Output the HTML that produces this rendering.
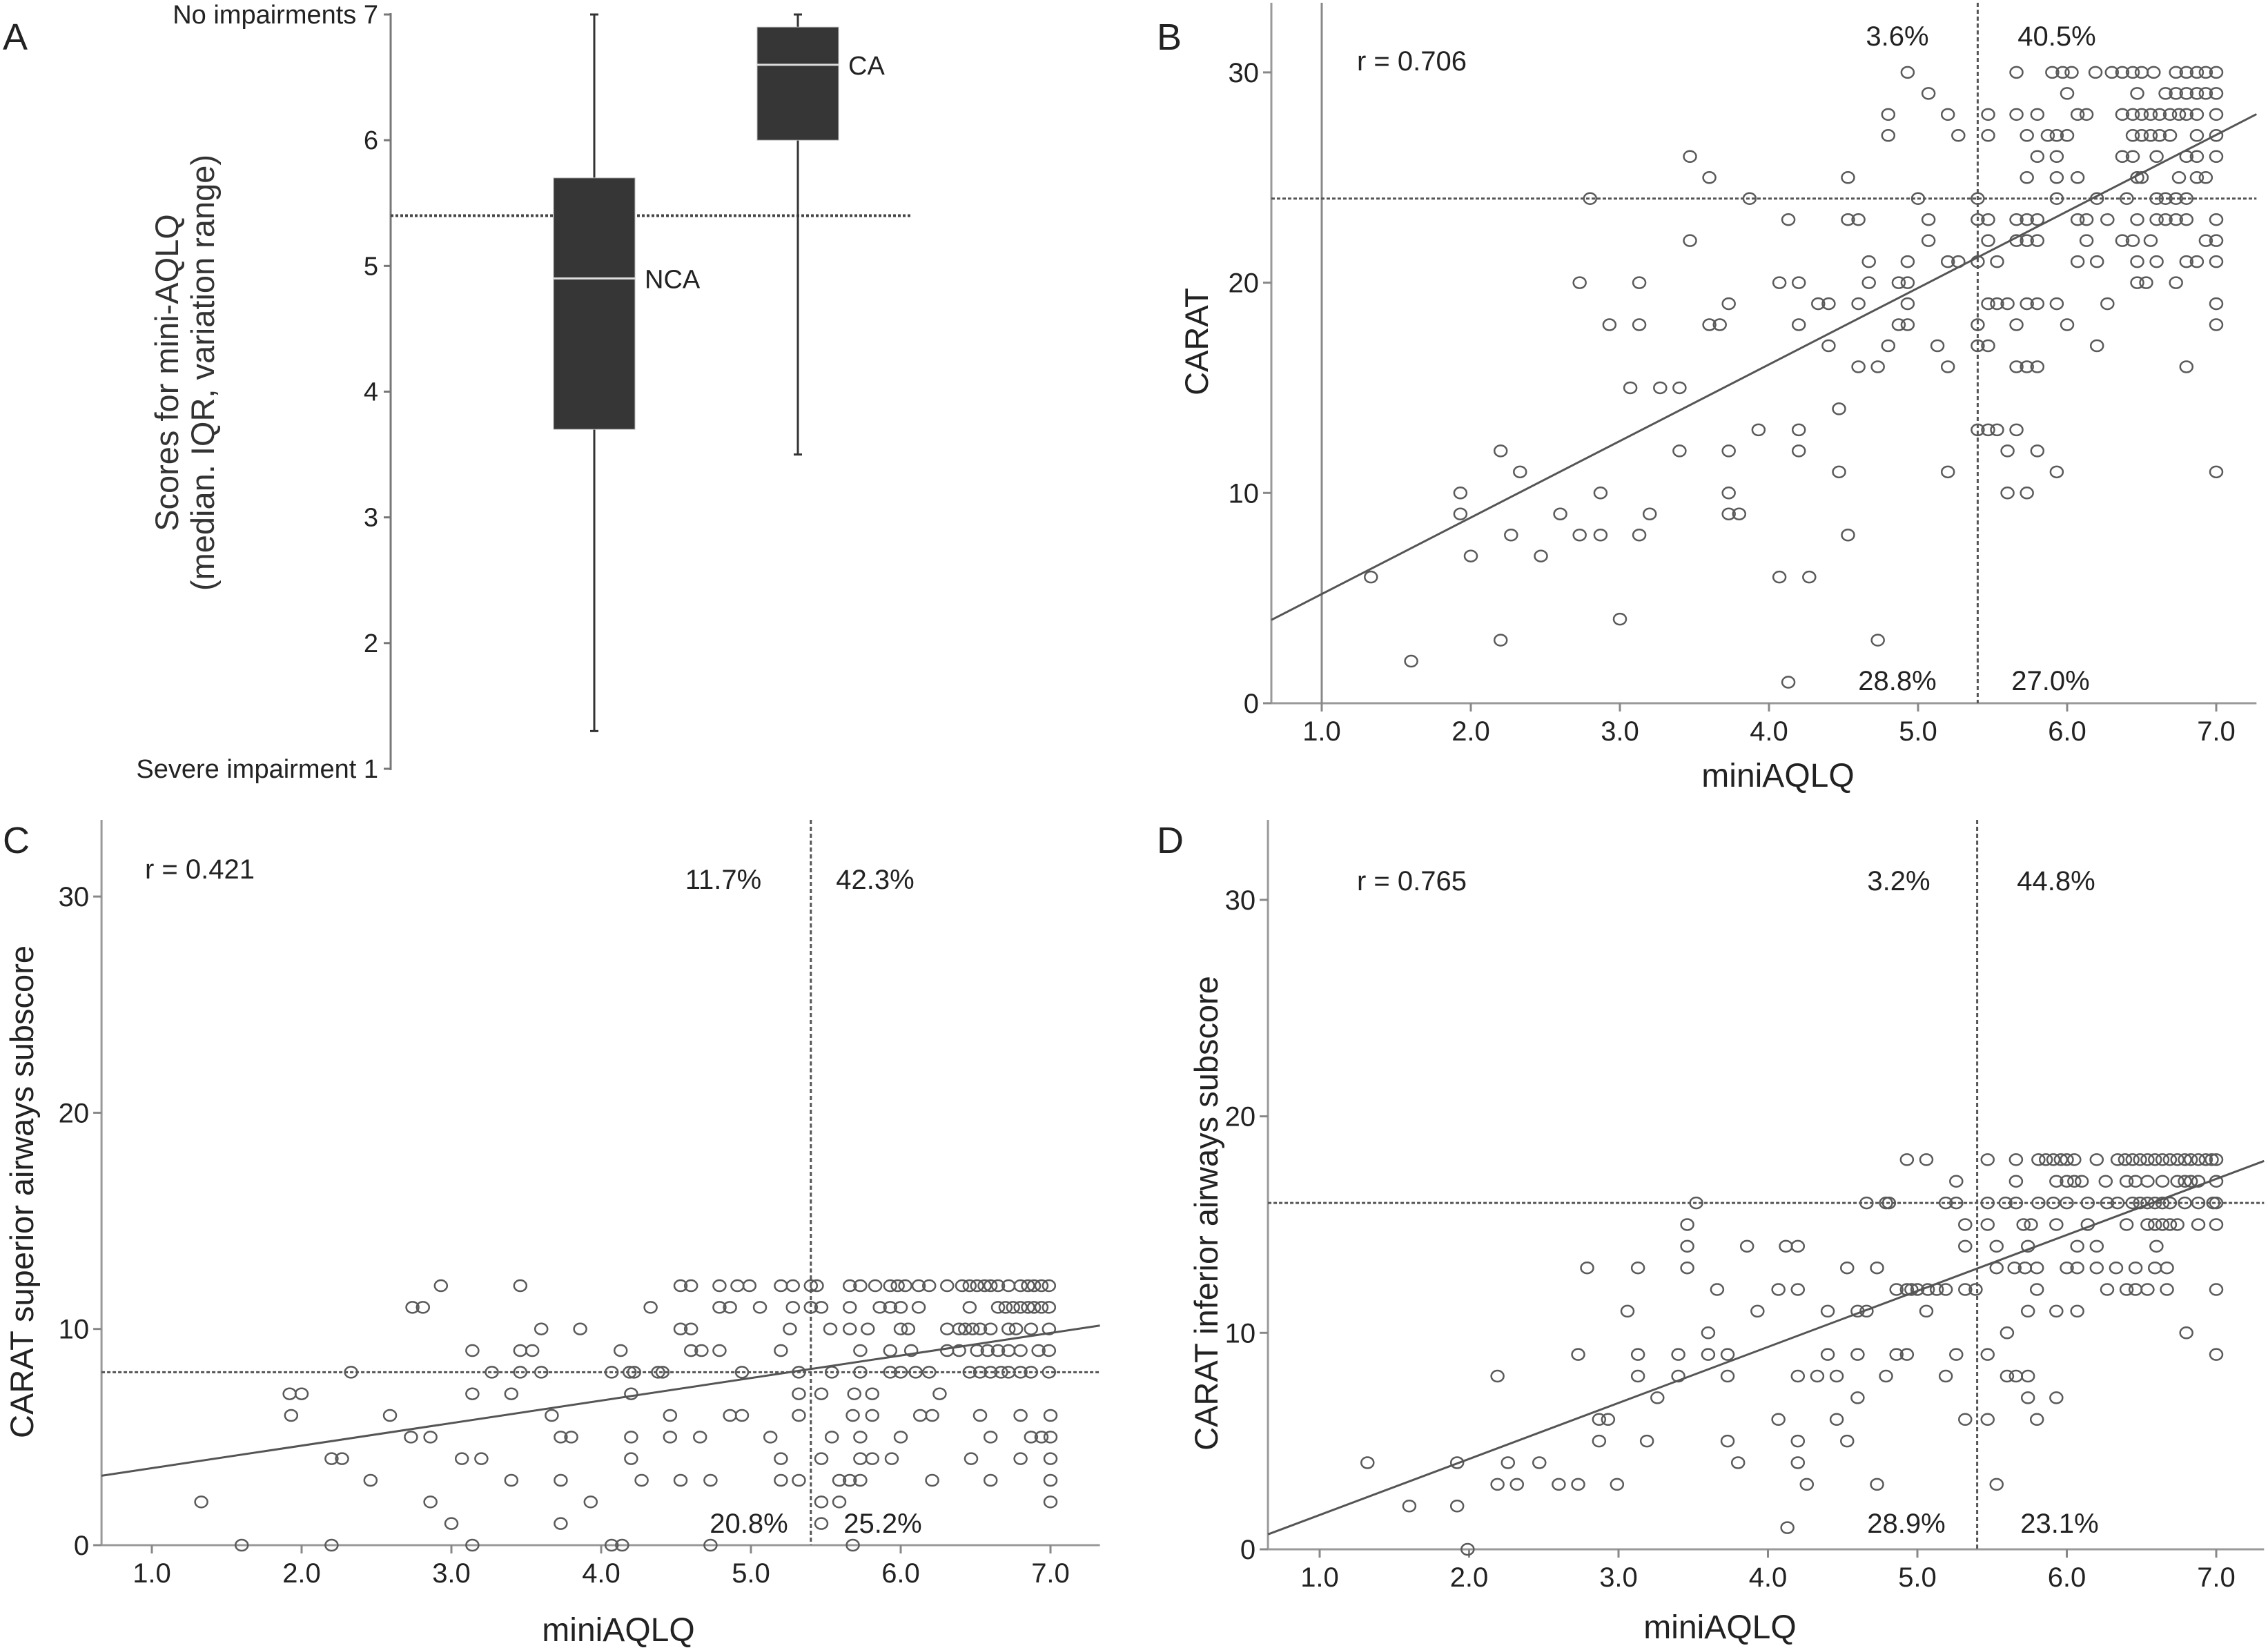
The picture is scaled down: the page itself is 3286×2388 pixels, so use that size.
<!DOCTYPE html>
<html><head><meta charset="utf-8"><style>
html,body{margin:0;padding:0;background:#fff;}
svg{display:block;font-family:"Liberation Sans",sans-serif;}
</style></head><body>
<svg id="fig" width="3286" height="2388" viewBox="0 0 3286 2388" xmlns="http://www.w3.org/2000/svg">
<rect width="3286" height="2388" fill="#fff"/>
<g id="pA"></g>
<g id="pB"></g>
<g id="pC"></g>
<g id="pD"></g>
</svg>
<script>
// ---------- Panel A data ----------
const boxGroups = ["NCA","CA"];
const boxMin = [1.3, 3.5];
const boxQ1 = [3.7, 6.0];
const boxMed = [4.9, 6.6];
const boxQ3 = [5.7, 6.9];
const boxMax = [7.0, 7.0];
const aTicks = [1,2,3,4,5,6,7];
const aCutoff = [5.4];

// ---------- Panel B data ----------
const bYLevels = [30,29,28,27,26,25,24,23,22,21,20,19,18,17,16,15,14,13,12,11,10,9,8,7,6,4,3,2,1];
const bXRows = [
 [4.93,5.66,5.90,5.97,6.03,6.19,6.30,6.37,6.44,6.50,6.58,6.73,6.80,6.87,6.93,7.0],
 [5.07,6.0,6.47,6.66,6.73,6.80,6.87,6.93,7.0],
 [4.80,5.20,5.47,5.66,5.80,6.07,6.13,6.37,6.44,6.50,6.56,6.62,6.69,6.75,6.80,6.87,7.0],
 [4.80,5.27,5.47,5.73,5.87,5.93,6.0,6.44,6.50,6.56,6.62,6.69,6.87,7.0],
 [3.47,5.80,5.93,6.37,6.44,6.60,6.80,6.87,7.0],
 [3.60,4.53,5.73,5.93,6.07,6.47,6.50,6.75,6.87,6.93],
 [2.80,3.87,5.00,5.40,5.93,6.20,6.40,6.60,6.66,6.73,6.80],
 [4.13,4.53,4.60,5.07,5.40,5.47,5.66,5.73,5.80,6.07,6.13,6.27,6.47,6.60,6.66,6.73,6.80,7.0],
 [3.47,5.07,5.47,5.66,5.73,5.80,6.13,6.37,6.44,6.56,6.93,7.0],
 [4.67,4.93,5.20,5.27,5.40,5.53,6.07,6.20,6.47,6.60,6.80,6.87,7.0],
 [2.73,3.13,4.07,4.20,4.67,4.87,4.93,6.47,6.53,6.73],
 [3.73,4.33,4.40,4.60,4.93,5.47,5.53,5.60,5.73,5.80,5.93,6.27,7.0],
 [2.93,3.13,3.60,3.67,4.20,4.87,4.93,5.40,5.66,6.0,7.0],
 [4.40,4.80,5.13,5.40,5.47,6.20],
 [4.60,4.73,5.20,5.66,5.73,5.80,6.80],
 [3.07,3.27,3.40],
 [4.47],
 [3.93,4.20,5.40,5.47,5.53,5.66],
 [2.20,3.40,3.73,4.20,5.60,5.80],
 [2.33,4.47,5.20,5.93,7.0],
 [1.93,2.87,3.73,5.60,5.73],
 [1.93,2.60,3.20,3.73,3.80],
 [2.27,2.73,2.87,3.13,4.53],
 [2.0,2.47],
 [1.33,4.07,4.27],
 [3.0],
 [2.20,4.73],
 [1.60],
 [4.13]
];
const bFit = [1.55, 3.64];          // intercept, slope
const bCut = [5.4, 24];             // x cutoff, y cutoff
const bLabels = ["r = 0.706","3.6%","40.5%","28.8%","27.0%"];

// ---------- Panel C data ----------
const cYLevels = [12,11,10,9,8,7,6,5,4,3,2,1,0];
const cXRows = [
 [2.93,3.46,4.53,4.60,4.79,4.91,4.99,5.20,5.28,5.40,5.44,5.66,5.73,5.83,5.93,5.98,6.03,6.12,6.19,6.31,6.41,6.46,6.51,6.56,6.60,6.65,6.72,6.80,6.85,6.89,6.94,6.99],
 [2.74,2.81,4.33,4.79,4.86,5.06,5.28,5.40,5.47,5.66,5.86,5.93,6.0,6.12,6.46,6.65,6.70,6.75,6.80,6.85,6.89,6.94,6.99],
 [3.60,3.86,4.53,4.60,5.26,5.53,5.66,5.78,6.0,6.05,6.31,6.39,6.43,6.48,6.53,6.60,6.72,6.77,6.87,6.99],
 [3.14,3.46,3.54,4.13,4.60,4.67,4.79,5.20,5.73,5.93,6.07,6.31,6.39,6.51,6.58,6.65,6.72,6.80,6.92,6.99],
 [2.33,3.27,3.46,3.60,4.07,4.19,4.22,4.38,4.41,4.94,5.32,5.54,5.73,5.93,6.0,6.10,6.19,6.46,6.53,6.60,6.67,6.72,6.80,6.87,6.99],
 [1.92,2.0,3.14,3.40,4.20,5.32,5.47,5.69,5.81,6.26],
 [1.93,2.59,3.67,4.46,4.86,4.94,5.32,5.68,5.81,6.13,6.21,6.53,6.80,7.0],
 [2.73,2.86,3.73,3.80,4.20,4.46,4.66,5.13,5.54,5.73,6.0,6.60,6.87,6.94,7.0],
 [2.20,2.27,3.07,3.20,4.20,5.20,5.47,5.73,5.81,5.94,6.47,6.80,7.0],
 [2.46,3.40,3.73,4.27,4.53,4.73,5.20,5.32,5.59,5.66,5.73,6.21,6.60,7.0],
 [1.33,2.86,3.93,5.47,5.59,7.0],
 [3.0,3.73,5.47],
 [1.60,2.20,3.14,4.07,4.14,4.73,5.68]
];
const cFit = [2.52, 1.042];
const cCut = [5.4, 8];
const cLabels = ["r = 0.421","11.7%","42.3%","20.8%","25.2%"];

// ---------- Panel D data ----------
const dYLevels = [18,17,16,15,14,13,12,11,10,9,8,7,6,5,4,3,2,1,0];
const dXRows = [
 [4.93,5.06,5.47,5.66,5.81,5.86,5.91,5.96,6.0,6.05,6.20,6.34,6.39,6.44,6.49,6.54,6.59,6.64,6.69,6.74,6.79,6.83,6.88,6.93,6.97,7.0],
 [5.26,5.66,5.93,6.0,6.05,6.10,6.26,6.40,6.46,6.54,6.64,6.74,6.79,6.83,6.88,7.0],
 [3.52,4.66,4.79,4.81,5.19,5.26,5.47,5.59,5.66,5.81,5.91,6.0,6.14,6.27,6.34,6.44,6.49,6.54,6.59,6.64,6.69,6.79,6.88,6.98,7.0],
 [3.46,5.32,5.47,5.71,5.76,5.93,6.14,6.40,6.54,6.59,6.64,6.69,6.74,6.88,7.0],
 [3.46,3.86,4.12,4.20,5.32,5.53,5.74,6.07,6.20,6.60],
 [2.79,3.13,3.46,4.53,4.73,5.53,5.65,5.72,5.80,6.0,6.07,6.20,6.33,6.46,6.59,6.67],
 [3.66,4.07,4.20,4.86,4.93,4.96,5.0,5.07,5.13,5.19,5.32,5.39,5.80,6.27,6.40,6.46,6.54,6.67,7.0],
 [3.06,3.93,4.40,4.60,4.66,5.06,5.74,5.93,6.07],
 [3.60,5.60,6.80],
 [2.73,3.13,3.40,3.60,3.73,4.40,4.60,4.86,4.93,5.26,5.47,7.0],
 [2.19,3.13,3.40,3.73,4.20,4.33,4.46,4.79,5.19,5.60,5.66,5.74],
 [3.26,4.60,5.74,5.93],
 [2.87,2.93,4.07,4.46,5.32,5.47,5.80],
 [2.87,3.19,3.73,4.20,4.53],
 [1.32,1.92,2.26,2.47,3.80,4.20],
 [2.19,2.32,2.60,2.73,2.99,4.26,4.73,5.53],
 [1.60,1.92],
 [4.13],
 [1.99]
];
const dFit = [-1.0, 2.587];
const dCut = [5.4, 16];
const dLabels = ["r = 0.765","3.2%","44.8%","28.9%","23.1%"];

const xTicks = [1,2,3,4,5,6,7];
const xTickText = ["1.0","2.0","3.0","4.0","5.0","6.0","7.0"];
const yTicks = [0,10,20,30];

const NS = "http://www.w3.org/2000/svg";
function mk(parent, tag, attrs, text){
  const el = document.createElementNS(NS, tag);
  for (const k in attrs) el.setAttribute(k, attrs[k]);
  if (text !== undefined) el.textContent = text;
  parent.appendChild(el);
  return el;
}

// ---------- Panel A ----------
(function(){
  const g = document.getElementById("pA");
  const axX = 566, y7 = 21, y1 = 1114;
  const ya = v => y1 - (v - 1) * (y1 - y7) / 6;
  const centers = [861, 1156], halfW = 59;
  let el = mk(g, "line", {x1:axX, y1:ya(7)-2, x2:axX, y2:ya(1)+2, stroke:"#777", "stroke-width":3});
  
  
  aTicks.forEach(t => {
    const tl = mk(g, "line", {x1:axX-10, y1:ya(t), x2:axX, y2:ya(t), stroke:"#777", "stroke-width":3});
    
    
    let label = String(t);
    if (t === 7) label = "No impairments 7";
    if (t === 1) label = "Severe impairment 1";
    const tx = mk(g, "text", {x:axX-18, y:ya(t)+13, "font-size":38, "text-anchor":"end", fill:"#222"}, label);
    
    
  });
  const cut = mk(g, "line", {x1:axX, y1:ya(aCutoff[0]), x2:1319, y2:ya(aCutoff[0]), stroke:"#444", "stroke-width":4, "stroke-dasharray":"4 3"});
  
  
  boxGroups.forEach((name, i) => {
    const cx = centers[i];
    const w = mk(g, "line", {x1:cx, y1:ya(boxMax[i]), x2:cx, y2:ya(boxMin[i]), stroke:"#333", "stroke-width":3});
    
    
    [boxMax[i], boxMin[i]].forEach(v => {
      const c = mk(g, "line", {x1:cx-6, y1:ya(v), x2:cx+6, y2:ya(v), stroke:"#333", "stroke-width":3});
      
      
    });
    const b = mk(g, "rect", {x:cx-halfW, y:ya(boxQ3[i]), width:halfW*2, height:ya(boxQ1[i])-ya(boxQ3[i]), fill:"#363636", stroke:"#bbb", "stroke-width":1});
    
    
    const m = mk(g, "line", {x1:cx-halfW, y1:ya(boxMed[i]), x2:cx+halfW, y2:ya(boxMed[i]), stroke:"#ddd", "stroke-width":3});
    
    
    const lb = mk(g, "text", {x:cx+halfW+14, y:ya(boxMed[i])+14, "font-size":38, fill:"#222"}, name);
    
    
  });
  const t1 = mk(g, "text", {x:0, y:0, "font-size":47, "text-anchor":"middle", fill:"#333", transform:"translate(262,540) rotate(-90)"});
  
  
  mk(t1, "tspan", {x:0, dy:-4}, "Scores for mini-AQLQ");
  mk(t1, "tspan", {x:0, dy:52}, "(median. IQR, variation range)");
  const pl = mk(g, "text", {x:4, y:72, "font-size":54, fill:"#222"}, "A");
  
  
})();

// ---------- Scatter panels ----------
function scatter(id, letter, yLevels, xRows, fit, cut, labels, geo){
  const g = document.getElementById(id);
  const xs = v => geo.x1px + (v - 1) * geo.xUnit;
  const ys = v => geo.y0px - v * geo.yUnit;
  const left = xs(geo.xmin), right = xs(geo.xmax), top = geo.top, bot = ys(0);
  let el = mk(g, "line", {x1:left, y1:top, x2:left, y2:bot, stroke:"#999", "stroke-width":3});
  
  
  el = mk(g, "line", {x1:left, y1:bot, x2:right, y2:bot, stroke:"#999", "stroke-width":3});
  
  
  yTicks.forEach(t => {
    const tl = mk(g, "line", {x1:left-12, y1:ys(t), x2:left, y2:ys(t), stroke:"#888", "stroke-width":3});
    
    
    const tx = mk(g, "text", {x:left-18, y:ys(t)+14, "font-size":40, "text-anchor":"end", fill:"#222"}, String(t));
    
    
  });
  xTicks.forEach((t, i) => {
    const tl = mk(g, "line", {x1:xs(t), y1:bot, x2:xs(t), y2:bot+12, stroke:"#888", "stroke-width":3});
    
    
    const tx = mk(g, "text", {x:xs(t), y:bot+54, "font-size":40, "text-anchor":"middle", fill:"#222"}, xTickText[i]);
    
    
  });
  if (geo.refLine) {
    const rl = mk(g, "line", {x1:xs(1), y1:top, x2:xs(1), y2:bot, stroke:"#888", "stroke-width":3});
    
    
  }
  const vc = mk(g, "line", {x1:xs(cut[0]), y1:top, x2:xs(cut[0]), y2:bot, stroke:"#555", "stroke-width":3, "stroke-dasharray":"6 4"});
  
  
  const hc = mk(g, "line", {x1:left, y1:ys(cut[1]), x2:right, y2:ys(cut[1]), stroke:"#555", "stroke-width":3, "stroke-dasharray":"5 3"});
  
  
  yLevels.forEach((yv, r) => {
    xRows[r].forEach(xv => {
      const p = mk(g, "ellipse", {cx:xs(xv), cy:ys(yv), rx:9, ry:8, fill:"none", stroke:"#5a5a5a", "stroke-width":2.5});
      
      
    });
  });
  const fl = mk(g, "line", {x1:xs(geo.xmin), y1:ys(fit[0]+fit[1]*geo.xmin), x2:right, y2:ys(fit[0]+fit[1]*geo.xmax), stroke:"#555", "stroke-width":3});
  
  
  const r = mk(g, "text", {x:geo.rX, y:geo.rY, "font-size":40, fill:"#222"}, labels[0]);
  
  
  const qx = [geo.qL, geo.qR, geo.qL2, geo.qR2], qy = [geo.qTop, geo.qTop, geo.qBot, geo.qBot];
  for (let i = 0; i < 4; i++) {
    const q = mk(g, "text", {x:qx[i], y:qy[i], "font-size":40, "text-anchor":"middle", fill:"#222"}, labels[i+1]);
    
    
  }
  const xl = mk(g, "text", {x:geo.xlX, y:geo.xlY, "font-size":48, "text-anchor":"middle", fill:"#222"}, "miniAQLQ");
  
  
  const yl = mk(g, "text", {x:0, y:0, "font-size":47, "text-anchor":"middle", fill:"#222", transform:`translate(${geo.ylX},${geo.ylY}) rotate(-90)`}, geo.ylText);
  
  
  const pl = mk(g, "text", {x:geo.pX, y:geo.pY, "font-size":54, fill:"#222"}, letter);
  
  
}

scatter("pB", "B", bYLevels, bXRows, bFit, bCut, bLabels,
  {x1px:1915, xUnit:216, y0px:1019, yUnit:30.47, xmin:0.662, xmax:7.27, top:4, refLine:true,
   rX:1966, rY:102, qL:2749, qR:2980, qTop:66, qL2:2749, qR2:2971, qBot:1000,
   xlX:2576, xlY:1140, ylX:1750, ylY:495, ylText:"CARAT", pX:1676, pY:72});
scatter("pC", "C", cYLevels, cXRows, cFit, cCut, cLabels,
  {x1px:220, xUnit:217, y0px:2239, yUnit:31.33, xmin:0.664, xmax:7.33, top:1188, refLine:false,
   rX:210, rY:1273, qL:1048, qR:1268, qTop:1288, qL2:1085, qR2:1279, qBot:2221,
   xlX:896, xlY:2378, ylX:48, ylY:1727, ylText:"CARAT superior airways subscore", pX:4, pY:1236});
scatter("pD", "D", dYLevels, dXRows, dFit, dCut, dLabels,
  {x1px:1912, xUnit:216.5, y0px:2245, yUnit:31.37, xmin:0.654, xmax:7.32, top:1188, refLine:false,
   rX:1966, rY:1290, qL:2751, qR:2979, qTop:1290, qL2:2762, qR2:2984, qBot:2221,
   xlX:2492, xlY:2374, ylX:1764, ylY:1758, ylText:"CARAT inferior airways subscore", pX:1676, pY:1236});
</script>
</body></html>
